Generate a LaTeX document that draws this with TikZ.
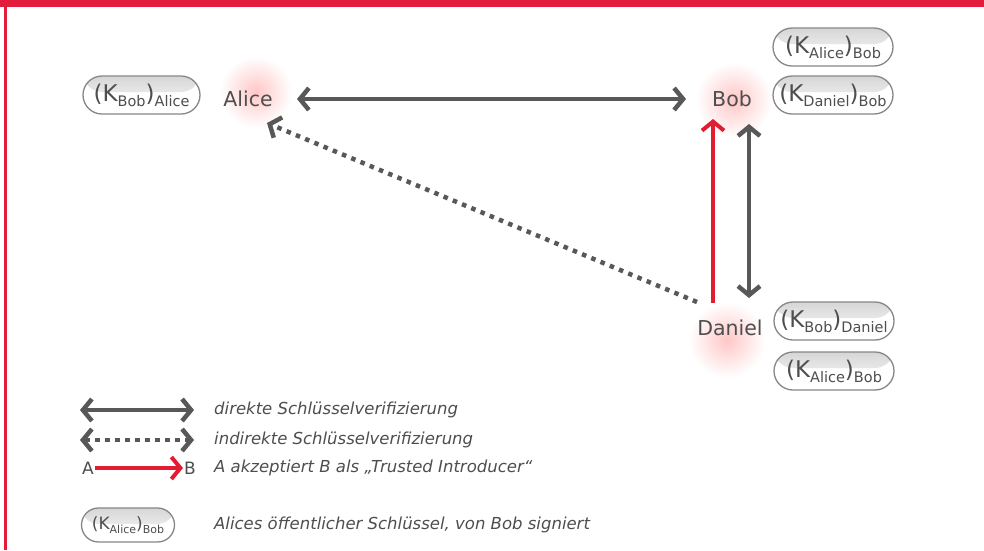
\documentclass[tikz,border=0pt]{standalone}
\usepackage{fontspec}
\setmainfont{DejaVu Sans}
\usetikzlibrary{arrows.meta,shadings}
\definecolor{framered}{RGB}{226,29,60}
\definecolor{arrgray}{RGB}{88,88,88}
\definecolor{txtgray}{RGB}{78,78,78}
\definecolor{pillgray}{RGB}{135,135,135}
\definecolor{arrred}{RGB}{226,29,50}
\newcommand{\pkey}[2]{{\fontsize{23}{23}\selectfont(K\raisebox{-5pt}{\fontsize{14.5}{14.5}\selectfont #1})\raisebox{-5pt}{\fontsize{14.5}{14.5}\selectfont #2}}}
\newcommand{\lkey}[2]{{\fontsize{17}{17}\selectfont(K\raisebox{-3.5pt}{\fontsize{11}{11}\selectfont #1})\raisebox{-3.5pt}{\fontsize{11}{11}\selectfont #2}}}
\tikzset{
  lbl/.style={text=txtgray, font=\fontsize{20.5}{20.5}\selectfont, inner sep=2pt},
  pill/.style={draw=pillgray, line width=1.3pt, rounded corners=19pt, minimum width=120pt, minimum height=38pt, inner sep=0pt, fill=white, text=txtgray,
    path picture={\shade[top color=black!16, bottom color=white] (path picture bounding box.north west) rectangle ([yshift=-16pt]path picture bounding box.north east);}},
  lpill/.style={pill, rounded corners=17pt, minimum width=93pt, minimum height=34pt},
  garrow/.style={draw=arrgray, line width=4.5pt, {Straight Barb[length=9pt,width=22pt]}-{Straight Barb[length=9pt,width=22pt]}},
  dotarrow/.style={draw=arrgray, line width=4.5pt, dash pattern=on 4.5pt off 5.5pt, -{Straight Barb[length=9pt,width=22pt]}},
  dotdbl/.style={dotarrow, {Straight Barb[length=9pt,width=22pt]}-{Straight Barb[length=9pt,width=22pt]}},
  rarrow/.style={draw=arrred, line width=4pt, -{Straight Barb[length=9pt,width=22pt]}},
  legtxt/.style={text=txtgray, font=\fontsize{16.5}{16.5}\selectfont\itshape, anchor=west, inner sep=0pt},
  abtxt/.style={text=txtgray, font=\fontsize{17}{17}\selectfont, inner sep=1pt},
  glow/.style={inner color=red!22, outer color=white}
}
\begin{document}
\begin{tikzpicture}[x=1pt,y=-1pt]
\useasboundingbox (0,0) rectangle (984,550);
\fill[white] (0,0) rectangle (984,550);
% frame
\fill[framered] (0,0) rectangle (984,6.5);
\fill[framered] (4,0) rectangle (7,550);
% glows
\shade[glow] (256,92) circle[radius=36pt];
\shade[glow] (734,100) circle[radius=38pt];
\shade[glow] (727,340) circle[radius=38pt];
% nodes
\node[lbl] (alice) at (248,99) {Alice};
\node[lbl] (bob) at (732,99) {Bob};
\node[lbl] (daniel) at (730,328) {Daniel};
% key pills
\node[pill, minimum width=117pt] (kba) at (141.5,95) {\pkey{Bob}{Alice}};
\node[pill] (kab1) at (833,47) {\pkey{Alice}{Bob}};
\node[pill] (kdb) at (833,95) {\pkey{Daniel}{Bob}};
\node[pill] (kbd) at (834,321) {\pkey{Bob}{Daniel}};
\node[pill] (kab2) at (834,371) {\pkey{Alice}{Bob}};
% connectors
\draw[garrow, shorten <=49pt, shorten >=46pt] (alice.center) -- (bob.center);
\draw[dotarrow] ([shift={(-33,-26)}]daniel.center) -- ([shift={(19,24)}]alice.center);
\draw[rarrow] ([shift={(-17,-25)}]daniel.center) -- ([shift={(-19,20)}]bob.center);
\draw[garrow] ([shift={(17,25)}]bob.center) -- ([shift={(19,-30)}]daniel.center);
% legend
\coordinate (l1a) at (80,410);
\coordinate (l1b) at (194,410);
\draw[garrow] (l1a) -- (l1b);
\node[legtxt] (t1) at (214,410) {direkte Schlüsselverifizierung};
\coordinate (l2a) at (80,440);
\coordinate (l2b) at (194,440);
\draw[dotdbl] (l2a) -- (l2b);
\node[legtxt] (t2) at (214,440) {indirekte Schlüsselverifizierung};
\node[abtxt] (la) at (88,468) {A};
\node[abtxt] (lb) at (190,468) {B};
\draw[rarrow] (la) -- (lb);
\node[legtxt] (t3) at (214,468) {A akzeptiert B als „Trusted Introducer“};
\node[lpill] (lkey) at (128,525) {\lkey{Alice}{Bob}};
\node[legtxt] (t4) at (214,525) {Alices öffentlicher Schlüssel, von Bob signiert};
\end{tikzpicture}
\end{document}
